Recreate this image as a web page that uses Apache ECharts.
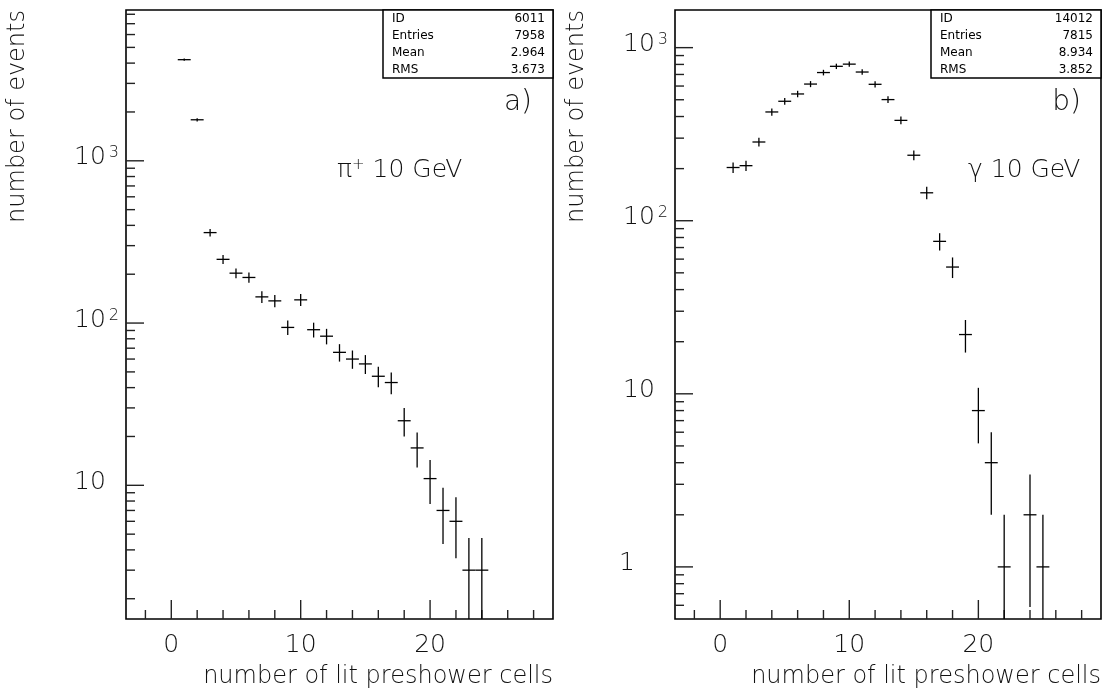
<!DOCTYPE html>
<html>
<head>
<meta charset="utf-8">
<script src="https://cdn.jsdelivr.net/npm/echarts@6/dist/echarts.min.js"></script>
<style>
  html, body { margin: 0; padding: 0; background: #ffffff; }
  #chart { width: 1109px; height: 693px; }
</style>
</head>
<body>
<div id="chart"></div>
<script>
// Events per number of lit preshower cells: pi+ at 10 GeV (panel a)
const piBins   = [1, 2, 3, 4, 5, 6, 7, 8, 9, 10, 11, 12, 13, 14, 15, 16, 17, 18, 19, 20, 21, 22, 23, 24];
const piCounts = [4200, 1790, 361, 247, 203, 191, 145, 137, 94, 139, 91, 83, 66, 60, 56, 47, 43, 25, 17, 11, 7, 6, 3, 3];

// Events per number of lit preshower cells: photons at 10 GeV (panel b)
const gammaBins   = [1, 2, 3, 4, 5, 6, 7, 8, 9, 10, 11, 12, 13, 14, 15, 16, 17, 18, 19, 20, 21, 22, 24, 25];
const gammaCounts = [203, 208, 285, 425, 490, 540, 616, 718, 780, 803, 723, 614, 501, 380, 239, 145, 76, 54, 22, 8, 4, 1, 2, 1];

// Axis ranges
const xRange      = [-3.5, 29.5];
const piYRange    = [1.5, 8500];
const gammaYRange = [0.5, 1650];

// Tick positions and tick labels
const xMajorTicks = [0, 10, 20];
const xMinorTicks = [-2, 2, 4, 6, 8, 12, 14, 16, 18, 22, 24, 26, 28];
const xTickLabels = ['0', '10', '20'];

const piYMajorTicks    = [10, 100, 1000];
const piYTickLabels    = ['10', '10^2', '10^3'];
const gammaYMajorTicks = [1, 10, 100, 1000];
const gammaYTickLabels = ['1', '10', '10^2', '10^3'];

// Statistics boxes
const piStats    = [['ID', '6011'],  ['Entries', '7958'], ['Mean', '2.964'], ['RMS', '3.673']];
const gammaStats = [['ID', '14012'], ['Entries', '7815'], ['Mean', '8.934'], ['RMS', '3.852']];

const xTitle = 'number of lit preshower cells';
const yTitle = 'number of events';

const FONT = '"DejaVu Sans", sans-serif';
const WEIGHT = 200;
const TEXT = '#111111';
const INK = '#000000';

// Minor log ticks (2..9 times each decade) inside a range
function minorLogTicks(lo, hi) {
  const out = [];
  for (let e = -2; e <= 5; e++) {
    const d = Math.pow(10, e);
    for (let m = 2; m <= 9; m++) {
      const v = m * d;
      if (v > lo * 1.001 && v < hi * 0.999) out.push(v);
    }
  }
  return out;
}

// Data points drawn as histogram crosses: bin width horizontally, sqrt(N) vertically
function crossRenderer(yMin) {
  return function (params, api) {
    const x = api.value(0);
    const n = api.value(1);
    const err = Math.sqrt(n);
    const lo = Math.max(n - err, yMin);
    const hi = n + err;
    const l = api.coord([x - 0.5, n]);
    const r = api.coord([x + 0.5, n]);
    const t = api.coord([x, hi]);
    const b = api.coord([x, lo]);
    const style = { stroke: INK, lineWidth: 1.3 };
    return {
      type: 'group',
      children: [
        { type: 'line', shape: { x1: l[0], y1: l[1], x2: r[0], y2: r[1] }, style },
        { type: 'line', shape: { x1: t[0], y1: t[1], x2: b[0], y2: b[1] }, style }
      ]
    };
  };
}

// Inward ticks on the left and bottom edges, plus tick labels
function axisRenderer(yRange, yMajor, yLabels) {
  const yMinor = minorLogTicks(yRange[0], yRange[1]);
  return function (params, api) {
    const els = [];
    const tick = (x1, y1, x2, y2) => els.push({
      type: 'line', shape: { x1, y1, x2, y2 }, style: { stroke: '#222', lineWidth: 1.4 }
    });
    yMinor.forEach(v => { const p = api.coord([xRange[0], v]); tick(p[0], p[1], p[0] + 9, p[1]); });
    yMajor.forEach(v => { const p = api.coord([xRange[0], v]); tick(p[0], p[1], p[0] + 18, p[1]); });
    xMinorTicks.forEach(v => { const p = api.coord([v, yRange[0]]); tick(p[0], p[1], p[0], p[1] - 9); });
    xMajorTicks.forEach(v => { const p = api.coord([v, yRange[0]]); tick(p[0], p[1], p[0], p[1] - 19); });

    xTickLabels.forEach((t, i) => {
      const p = api.coord([xMajorTicks[i], yRange[0]]);
      els.push({
        type: 'text', x: p[0], y: p[1] + 26,
        style: { text: t, fontSize: 25, fontFamily: FONT, fontWeight: WEIGHT, fill: TEXT, align: 'center', verticalAlign: 'middle' }
      });
    });
    yLabels.forEach((t, i) => {
      const p = api.coord([xRange[0], yMajor[i]]);
      const parts = t.split('^');
      const txt = parts.length > 1 ? '{b|' + parts[0] + '}{s|' + parts[1] + '}' : '{b|' + t + '}';
      els.push({
        type: 'text', x: p[0] - (t === '1' ? 56 : 52), y: p[1] - 3,
        style: {
          text: txt, align: 'left', verticalAlign: 'middle', fill: TEXT,
          rich: {
            b: { fontSize: 25, fontFamily: FONT, fontWeight: WEIGHT, fill: TEXT },
            s: { fontSize: 16, fontFamily: FONT, fontWeight: WEIGHT, fill: TEXT, verticalAlign: 'top', padding: [0, 0, 0, 3] }
          }
        }
      });
    });
    return { type: 'group', children: els };
  };
}

// Panel frames in pixels
const panels = [
  { left: 126, top: 10, width: 427, height: 609 },
  { left: 675, top: 10, width: 426, height: 609 }
];

function statBox(panel, stats) {
  const w = 170, h = 68;
  const x0 = panel.left + panel.width - w;
  const y0 = panel.top;
  const children = [{
    type: 'rect', shape: { x: 0, y: 0, width: w, height: h },
    style: { fill: '#fff', stroke: INK, lineWidth: 1.5 }
  }];
  stats.forEach((row, i) => {
    const y = 8.5 + i * 17.2;
    children.push({ type: 'text', x: 9, y, style: { text: row[0], fontSize: 12, fontFamily: FONT, fill: '#000', align: 'left', verticalAlign: 'middle' } });
    children.push({ type: 'text', x: w - 8, y, style: { text: row[1], fontSize: 12, fontFamily: FONT, fill: '#000', align: 'right', verticalAlign: 'middle' } });
  });
  return { type: 'group', x: x0, y: y0, z: 100, children };
}

function textEl(x, y, text, opts) {
  return Object.assign({
    type: 'text', x, y, z: 100,
    style: Object.assign({ text, fontSize: 24, fontFamily: FONT, fontWeight: WEIGHT, fill: TEXT }, opts || {})
  });
}

const chart = echarts.init(document.getElementById('chart'), null, { renderer: 'canvas' });

const hiddenAxis = { show: true, axisLine: { show: false }, axisTick: { show: false }, axisLabel: { show: false }, splitLine: { show: false } };

chart.setOption({
  animation: false,
  backgroundColor: '#ffffff',
  grid: panels.map(p => Object.assign({ show: true, borderColor: INK, borderWidth: 1.6, backgroundColor: 'transparent' }, p)),
  xAxis: [
    Object.assign({ type: 'value', gridIndex: 0, min: xRange[0], max: xRange[1] }, hiddenAxis),
    Object.assign({ type: 'value', gridIndex: 1, min: xRange[0], max: xRange[1] }, hiddenAxis)
  ],
  yAxis: [
    Object.assign({ type: 'log', gridIndex: 0, min: piYRange[0], max: piYRange[1] }, hiddenAxis),
    Object.assign({ type: 'log', gridIndex: 1, min: gammaYRange[0], max: gammaYRange[1] }, hiddenAxis)
  ],
  series: [
    {
      type: 'custom', name: 'axes a', xAxisIndex: 0, yAxisIndex: 0, silent: true, z: 2,
      renderItem: axisRenderer(piYRange, piYMajorTicks, piYTickLabels),
      data: [[xRange[0], piYRange[0]]]
    },
    {
      type: 'custom', name: 'axes b', xAxisIndex: 1, yAxisIndex: 1, silent: true, z: 2,
      renderItem: axisRenderer(gammaYRange, gammaYMajorTicks, gammaYTickLabels),
      data: [[xRange[0], gammaYRange[0]]]
    },
    {
      type: 'custom', name: 'pi+ 10 GeV', xAxisIndex: 0, yAxisIndex: 0, silent: true, z: 3, clip: true,
      renderItem: crossRenderer(piYRange[0]),
      data: piBins.map((b, i) => [b, piCounts[i]])
    },
    {
      type: 'custom', name: 'gamma 10 GeV', xAxisIndex: 1, yAxisIndex: 1, silent: true, z: 3, clip: true,
      renderItem: crossRenderer(gammaYRange[0]),
      data: gammaBins.map((b, i) => [b, gammaCounts[i]])
    }
  ],
  graphic: [
    statBox(panels[0], piStats),
    statBox(panels[1], gammaStats),
    // axis titles
    textEl(panels[0].left + panels[0].width, 677, xTitle, { align: 'right', verticalAlign: 'middle' }),
    textEl(panels[1].left + panels[1].width, 677, xTitle, { align: 'right', verticalAlign: 'middle' }),
    Object.assign(textEl(18, 10, yTitle, { align: 'right', verticalAlign: 'middle' }), { rotation: Math.PI / 2 }),
    Object.assign(textEl(577, 10, yTitle, { align: 'right', verticalAlign: 'middle' }), { rotation: Math.PI / 2 }),
    // panel tags
    textEl(532, 103, 'a)', { fontSize: 28, align: 'right', verticalAlign: 'middle' }),
    textEl(1081, 103, 'b)', { fontSize: 28, align: 'right', verticalAlign: 'middle' }),
    // particle labels
    textEl(337, 170, '{n|π}{s|+}{n| 10 GeV}', {
      align: 'left', verticalAlign: 'middle',
      rich: {
        n: { fontSize: 25, fontFamily: FONT, fontWeight: WEIGHT, fill: TEXT },
        s: { fontSize: 15, fontFamily: FONT, fontWeight: WEIGHT, fill: TEXT, verticalAlign: 'top' }
      }
    }),
    textEl(968, 170, 'γ 10 GeV', { fontSize: 25, align: 'left', verticalAlign: 'middle' })
  ]
});
</script>
</body>
</html>
